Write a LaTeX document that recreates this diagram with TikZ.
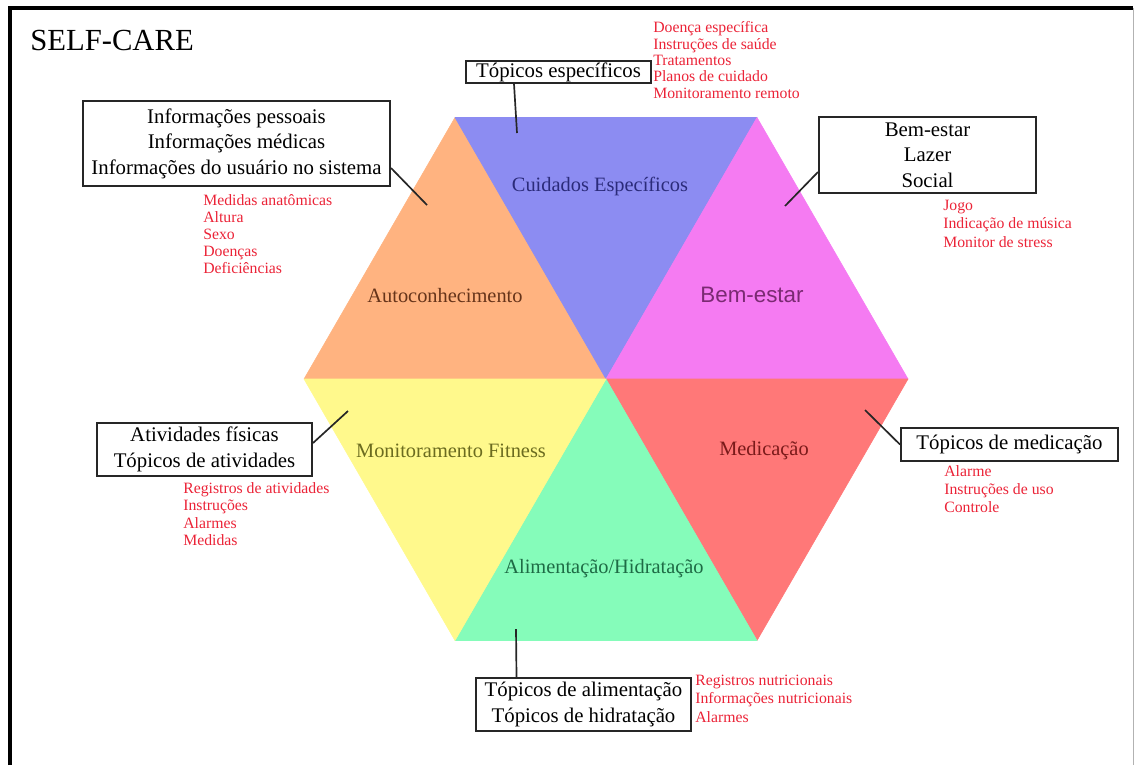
\documentclass[tikz,border=0pt]{standalone}
\usepackage{fontspec}
\setmainfont{Liberation Serif}
\newfontfamily\hexsans{Liberation Sans}
\usepackage{tikz}
\usetikzlibrary{calc,positioning}

\definecolor{autocol}{HTML}{FFB380}
\definecolor{cuidcol}{HTML}{8C8CF2}
\definecolor{bemcol}{HTML}{F57BF2}
\definecolor{medcol}{HTML}{FF7878}
\definecolor{alimcol}{HTML}{85FCBA}
\definecolor{fitcol}{HTML}{FFF98C}
\definecolor{autotext}{HTML}{66341A}
\definecolor{cuidtext}{HTML}{2B2B7A}
\definecolor{bemtext}{HTML}{7A2A72}
\definecolor{medtext}{HTML}{7A1A1A}
\definecolor{alimtext}{HTML}{1E6B45}
\definecolor{fittext}{HTML}{6B6B1F}
\definecolor{itemred}{HTML}{EB2337}

\tikzset{
  tri/.style={fill=#1, draw=#1, line width=0.4pt, line join=round},
  hexlabel/.style={font=\fontsize{14.5}{17}\selectfont},
  topicbox/.style={draw=black!85, line width=1.4pt, fill=white, align=center, inner sep=0pt,
    font=\fontsize{14.8}{18.2}\selectfont},
  itemlist/.style={anchor=west, align=left, inner sep=0pt, text=itemred},
  link/.style={line width=1.2pt, black!85}
}

\begin{document}
\begin{tikzpicture}[x=0.025cm,y=-0.025cm]
		\useasboundingbox (0,0) rectangle (1135,765);
		\draw[line width=3pt] (10,765) -- (10,8) -- (1133,8);  % frame
		\draw[gray!60, line width=0.5pt] (1133,8) -- (1133,765);
		
		\node[anchor=west, inner sep=0pt, font=\fontsize{21.8}{24}\selectfont] (title) at (30,40) {SELF-CARE};
		
		% hexagon
		\coordinate (O) at (606,379);
		\coordinate (E) at (908,379);
		\coordinate (NE) at (757,117.5);
		\coordinate (NW) at (455,117.5);
		\coordinate (W) at (304,379);
		\coordinate (SW) at (455,640.5);
		\coordinate (SE) at (757,640.5);
		
		\path[tri=autocol] (O) -- (W) -- (NW) -- cycle;
		\path[tri=cuidcol] (O) -- (NW) -- (NE) -- cycle;
		\path[tri=bemcol] (O) -- (NE) -- (E) -- cycle;
		\path[tri=medcol] (O) -- (E) -- (SE) -- cycle;
		\path[tri=alimcol] (O) -- (SE) -- (SW) -- cycle;
		\path[tri=fitcol] (O) -- (SW) -- (W) -- cycle;
		
		\node[hexlabel, text=autotext] (autoc) at (445,296) {Autoconhecimento};
		\node[hexlabel, text=cuidtext] (cuid) at (600,186) {Cuidados Específicos};
		\node[font=\hexsans\fontsize{15.9}{18}\selectfont, text=bemtext] (bemest) at (752,295) {Bem-estar};
		\node[hexlabel, text=fittext] (fit) at (451,451) {Monitoramento Fitness};
		\node[hexlabel, text=medtext] (medic) at (764,451) {Medicação};
		\node[hexlabel, text=alimtext] (alim) at (604,569) {Alimentação/Hidratação};
		
		% topic boxes
		\node[topicbox, minimum width=7.675cm, minimum height=2.125cm] (info) at (236.5,143.5)
			{Informações pessoais\\Informações médicas\\Informações do usuário no sistema};
		\node[topicbox, minimum width=4.625cm, minimum height=0.55cm] (topEsp) at (558.5,72) {Tópicos específicos};
		\node[topicbox, minimum width=5.425cm, minimum height=1.9cm] (lazer) at (927.5,155) {Bem-estar\\Lazer\\Social};
		\node[topicbox, minimum width=5.375cm, minimum height=1.325cm] (ativ) at (204.5,449.5)
			{Atividades físicas\\Tópicos de atividades};
		\node[topicbox, minimum width=5.425cm, minimum height=0.825cm] (topMed) at (1009.5,444.5) {Tópicos de medicação};
		\node[topicbox, minimum width=5.375cm, minimum height=1.325cm] (topAlim) at (583.5,704.5)
			{Tópicos de alimentação\\Tópicos de hidratação};
		
		% connectors
		\coordinate (infoEnd) at (427,205);
		\coordinate (espEnd) at (517,133);
		\coordinate (lazerEnd) at (785,206);
		\coordinate (ativEnd) at (348,411);
		\coordinate (medEnd) at (865,410);
		\coordinate (alimEnd) at (516,629);
		\draw[link] ($(info.east)+(0,24.5)$) -- (infoEnd);
		\draw[link] ($(topEsp.south)+(-44.5,0)$) -- (espEnd);
		\draw[link] ($(lazer.west)+(0,17)$) -- (lazerEnd);
		\draw[link] ($(ativ.east)+(0,-6.5)$) -- (ativEnd);
		\draw[link] (topMed.west) -- (medEnd);
		\draw[link] ($(topAlim.north)+(-67,0)$) -- (alimEnd);
		
		% item lists
		\node[itemlist, font=\fontsize{11.2}{12.1}\selectfont] (autoItems) at (203,234)
			{Medidas anatômicas\\Altura\\Sexo\\Doenças\\Deficiências};
		\node[itemlist, font=\fontsize{11.2}{11.7}\selectfont] (espItems) at (653,60)
			{Doença específica\\Instruções de saúde\\Tratamentos\\Planos de cuidado\\Monitoramento remoto};
		\node[itemlist, font=\fontsize{11.2}{13.2}\selectfont] (lazerItems) at (943,223.5)
			{Jogo\\Indicação de música\\Monitor de stress};
		\node[itemlist, font=\fontsize{11.2}{12.3}\selectfont] (ativItems) at (183,514)
			{Registros de atividades\\Instruções\\Alarmes\\Medidas};
		\node[itemlist, font=\fontsize{11.2}{12.8}\selectfont] (medItems) at (944,489)
			{Alarme\\Instruções de uso\\Controle};
		\node[itemlist, font=\fontsize{11.2}{13.2}\selectfont] (alimItems) at (695,698.5)
			{Registros nutricionais\\Informações nutricionais\\Alarmes};
\end{tikzpicture}
\end{document}
